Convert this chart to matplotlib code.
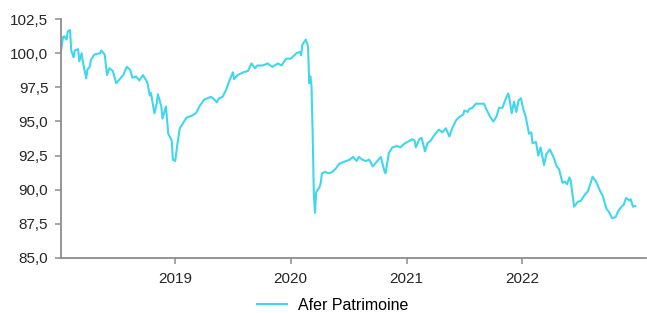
import numpy as np
import pandas as pd
import matplotlib
matplotlib.use("Agg")
import matplotlib.pyplot as plt
import matplotlib.dates as mdates
from matplotlib.ticker import FuncFormatter

# dates as decimal years
annees = [
    2018.01, 2018.03, 2018.04, 2018.06, 2018.07, 2018.09, 2018.10, 2018.12, 2018.13, 2018.16,
    2018.17, 2018.19, 2018.20, 2018.23, 2018.24, 2018.26, 2018.27, 2018.30, 2018.35, 2018.36,
    2018.39, 2018.41, 2018.43, 2018.46, 2018.49, 2018.52, 2018.55, 2018.58, 2018.61, 2018.63,
    2018.66, 2018.69, 2018.72, 2018.75, 2018.76, 2018.78, 2018.79, 2018.82, 2018.84, 2018.85,
    2018.88, 2018.89, 2018.92, 2018.94, 2018.97, 2018.98, 2019.00, 2019.02, 2019.04, 2019.07,
    2019.10, 2019.14, 2019.18, 2019.21, 2019.25, 2019.31, 2019.34, 2019.36, 2019.38, 2019.41,
    2019.44, 2019.47, 2019.50, 2019.51, 2019.54, 2019.59, 2019.63, 2019.66, 2019.69, 2019.71,
    2019.76, 2019.80, 2019.84, 2019.89, 2019.92, 2019.96, 2020.00, 2020.05, 2020.08, 2020.09,
    2020.10, 2020.13, 2020.15, 2020.16, 2020.17, 2020.18, 2020.19, 2020.20, 2020.21, 2020.22,
    2020.25, 2020.26, 2020.27, 2020.30, 2020.33, 2020.36, 2020.39, 2020.42, 2020.45, 2020.48,
    2020.51, 2020.54, 2020.57, 2020.59, 2020.62, 2020.65, 2020.68, 2020.71, 2020.74, 2020.78,
    2020.81, 2020.82, 2020.85, 2020.88, 2020.92, 2020.95, 2020.98, 2021.03, 2021.05, 2021.07,
    2021.08, 2021.11, 2021.13, 2021.16, 2021.18, 2021.21, 2021.24, 2021.28, 2021.31, 2021.34,
    2021.37, 2021.40, 2021.43, 2021.46, 2021.49, 2021.50, 2021.53, 2021.54, 2021.57, 2021.60,
    2021.65, 2021.67, 2021.69, 2021.72, 2021.75, 2021.76, 2021.78, 2021.80, 2021.83, 2021.86,
    2021.88, 2021.89, 2021.91, 2021.93, 2021.95, 2021.97, 2021.99, 2022.01, 2022.03, 2022.06,
    2022.08, 2022.09, 2022.12, 2022.14, 2022.16, 2022.19, 2022.21, 2022.24, 2022.26, 2022.28,
    2022.30, 2022.32, 2022.35, 2022.37, 2022.39, 2022.41, 2022.42, 2022.45, 2022.48, 2022.51,
    2022.54, 2022.57, 2022.59, 2022.61, 2022.64, 2022.67, 2022.70, 2022.73, 2022.75, 2022.78,
    2022.81, 2022.83, 2022.86, 2022.88, 2022.90, 2022.93, 2022.94, 2022.96, 2022.98,
]
valeurs = [
    100.1, 101.2, 101.25, 101.0, 101.6, 101.7, 100.2, 99.7, 100.2, 100.3,
    99.4, 100.0, 99.4, 98.15, 98.8, 99.0, 99.5, 99.9, 100.0, 100.2,
    99.9, 98.4, 98.9, 98.7, 97.8, 98.1, 98.4, 99.0, 98.8, 98.2,
    98.3, 98.0, 98.4, 98.0, 97.8, 96.9, 97.1, 95.6, 96.3, 97.0,
    96.1, 95.2, 96.1, 94.1, 93.6, 92.2, 92.1, 93.4, 94.5, 94.9,
    95.3, 95.4, 95.6, 96.1, 96.6, 96.8, 96.6, 96.4, 96.7, 96.8,
    97.3, 98.0, 98.6, 98.1, 98.4, 98.6, 98.7, 99.25, 98.9, 99.1,
    99.1, 99.25, 99.0, 99.25, 99.1, 99.6, 99.6, 100.0, 100.1, 99.85,
    100.6, 101.0, 100.5, 97.8, 98.3, 97.6, 94.1, 89.7, 88.3, 89.8,
    90.2, 90.5, 91.2, 91.3, 91.2, 91.3, 91.55, 91.9, 92.0, 92.1,
    92.2, 92.4, 92.1, 92.4, 92.2, 92.1, 92.2, 91.7, 92.0, 92.4,
    91.4, 91.2, 92.7, 93.1, 93.2, 93.1, 93.35, 93.6, 93.7, 93.6,
    93.1, 93.7, 93.8, 92.8, 93.4, 93.6, 94.0, 94.4, 94.2, 94.5,
    93.9, 94.6, 95.1, 95.35, 95.5, 95.8, 95.7, 95.9, 96.0, 96.3,
    96.3, 96.3, 95.9, 95.4, 95.0, 95.1, 95.4, 96.0, 96.0, 96.7,
    97.05, 96.7, 95.6, 96.45, 95.7, 96.55, 96.7, 95.9, 95.4, 94.1,
    94.2, 93.4, 93.5, 92.5, 93.1, 91.8, 92.6, 92.95, 92.6, 92.2,
    91.7, 91.5, 90.5, 90.6, 90.4, 90.9, 90.7, 88.75, 89.1, 89.2,
    89.6, 89.9, 90.4, 90.95, 90.6, 90.0, 89.5, 88.6, 88.4, 87.9,
    88.0, 88.4, 88.75, 88.9, 89.4, 89.2, 89.3, 88.75, 88.8,
]
annees_ticks = [2019, 2020, 2021, 2022]
serie = "Afer Patrimoine"
couleur = "#3fd7ee"


def vers_date(a):
    an = int(a)
    return pd.Timestamp(year=an, month=1, day=1) + pd.Timedelta(days=(a - an) * 365)


dates = [vers_date(a) for a in annees]

plt.rcParams['font.family'] = ['Liberation Sans', 'DejaVu Sans']

fig = plt.figure(figsize=(6.47, 3.13), dpi=100)
ax = fig.add_axes([0.094, 0.176, 0.904, 0.763])

ax.plot(dates, valeurs, color=couleur, linewidth=1.5, label=serie)

ax.set_ylim(85, 102.5)
ax.set_yticks(np.arange(85, 102.51, 2.5))
ax.yaxis.set_major_formatter(FuncFormatter(lambda v, p: f"{v:.1f}".replace(".", ",")))
ax.set_xlim(vers_date(2018.01), vers_date(2023.07))
ax.set_xticks([pd.Timestamp(year=a, month=1, day=1) for a in annees_ticks])
ax.xaxis.set_major_formatter(mdates.DateFormatter("%Y"))

for s in ["top", "right"]:
    ax.spines[s].set_visible(False)
for s in ["left", "bottom"]:
    ax.spines[s].set_color("#8c8c8c")
    ax.spines[s].set_linewidth(1.3)
ax.tick_params(axis="both", colors="#8c8c8c", labelcolor="#262626", labelsize=11, length=4, width=1.1)
ax.tick_params(axis="x", pad=6)
ax.tick_params(axis="y", pad=5)

fig.legend(loc="center", bbox_to_anchor=(0.514, 0.025), frameon=False, fontsize=11.5,
           handlelength=1.9, handletextpad=0.7)

fig.savefig("out.png", dpi=100)
